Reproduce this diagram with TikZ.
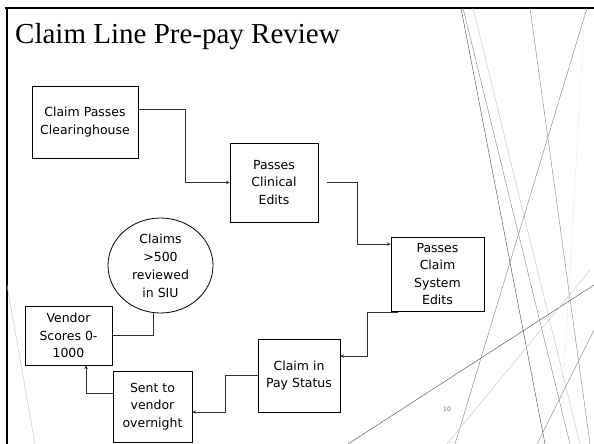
\documentclass[tikz,border=0pt]{standalone}
\usepackage{fontspec}
\setmainfont{Liberation Serif}
\newfontfamily\boxsans{DejaVu Sans}
\usepackage{tikz}
\usetikzlibrary{shapes.geometric, arrows.meta}
\definecolor{ink}{HTML}{2E2E2E}
\definecolor{wispdark}{HTML}{555555}
\definecolor{wispmid}{HTML}{8C8C8C}
\definecolor{wisplight}{HTML}{C6C6C6}
\tikzset{
  title/.style={anchor=base west, inner sep=0pt, font=\fontsize{29}{34}\selectfont},
  box/.style={rectangle, draw=black, fill=white, align=center, font=\boxsans\fontsize{12.5}{17.5}\selectfont, inner sep=2pt, line width=0.8pt},
  bubble/.style={ellipse, draw=black, fill=white, align=center, font=\boxsans\fontsize{12.5}{18}\selectfont, inner sep=0pt, line width=0.8pt},
  arrow/.style={-{Stealth[length=3.5pt, width=3.5pt]}, line width=0.7pt, color=ink},
  link/.style={line width=0.7pt, color=ink},
  wisp/.style={line width=0.45pt},
  pagenum/.style={font=\boxsans\fontsize{6}{7}\selectfont, text=black!60, inner sep=0pt},
}

\begin{document}
\begin{tikzpicture}[x=1pt, y=-1pt]
  \useasboundingbox (0,0) rectangle (594,444);
  % slide frame
  \draw[line width=2pt] (5,8) -- (594,8);
  \draw[line width=2pt] (7,8) -- (7,444);
  % wisps on the right
  \draw[wisp, wispdark] (461,8) -- (545,444);
  \draw[wisp, wispmid] (463,8) -- (570,444);
  \draw[wisp, wisplight] (473,8) -- (580,444);
  \draw[wisp, wispmid] (530,8) -- (590,444);
  \draw[wisp, wispmid] (587,8) -- (455,444);
  \draw[wisp, wisplight, densely dotted] (585,8) -- (560,444);
  \draw[wisp, wispdark] (348,444) -- (594,285);
  \draw[wisp, wisplight] (447,444) -- (590,270);
  \draw[wisp, wispmid] (537,444) -- (594,330);
  \draw[wisp, wisplight] (7,285) -- (35,444);

  \node[title] (title) at (15,44) {Claim Line Pre-pay Review};

  \node[box, minimum width=106pt, minimum height=72pt] (clearing) at (85,122) {Claim Passes\\Clearinghouse};
  \node[box, minimum width=88pt, minimum height=79pt] (clinical) at (274,182.5) {Passes\\Clinical\\Edits};
  \node[box, minimum width=93pt, minimum height=74pt] (system) at (437.5,274) {Passes\\Claim\\System\\Edits};
  \node[box, minimum width=82pt, minimum height=73pt] (paystatus) at (299,375.5) {Claim in\\Pay Status};
  \node[box, minimum width=79pt, minimum height=71pt] (overnight) at (152.5,406.5) {Sent to\\vendor\\overnight};
  \node[box, minimum width=87pt, minimum height=59pt] (vendor) at (68.5,335.5) {Vendor\\Scores 0-\\1000};
  \node[bubble, minimum width=105pt, minimum height=95pt] (siu) at (160.5,265.5) {Claims\\>500\\reviewed\\in SIU};

  \node[pagenum] (page) at (447,409) {10};

  \draw[arrow] (clearing.east |- 0,109) -- ++(47,0) |- (clinical.west);
  \draw[arrow] (clinical.east) ++(9,0) -- ++(30,0) |- (system.west |- 0,244);
  \draw[arrow] (system.south west) ++(7,1) -- ++(-30,0) |- (paystatus.east |- 0,356);
  \draw[arrow] (paystatus.west) -- ++(-32,0) |- (overnight.east |- 0,412);
  \draw[arrow] (overnight.west |- 0,393) -| (vendor.south -| 86,0);
  \draw[link] (vendor.east) -| (siu.south -| 153,0);
\end{tikzpicture}
\end{document}
